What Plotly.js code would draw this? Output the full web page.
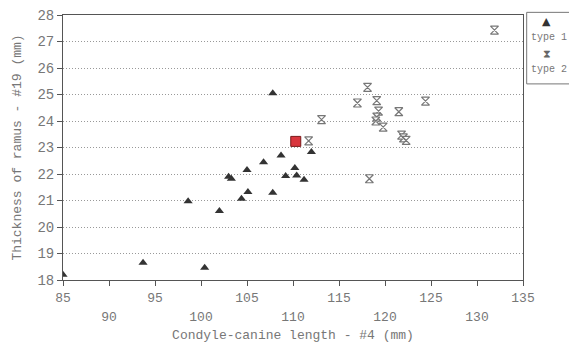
<!DOCTYPE html>
<html>
<head>
<meta charset="utf-8">
<script src="https://cdn.plot.ly/plotly-3.0.1.min.js"></script>
<style>html,body{margin:0;padding:0;background:#fff;}#chart{width:569px;height:343px;}</style>
</head>
<body>
<div id="chart"></div>
<script>
// Type 1 specimens
const type1X = [85.0, 93.7, 100.4, 98.6, 102.0, 103.0, 103.3, 104.4, 105.1, 105.0, 106.8, 107.8, 107.8, 108.7, 109.2, 110.2, 110.4, 111.2, 112.0];
const type1Y = [18.2, 18.65, 18.46, 20.97, 20.6, 21.9, 21.82, 21.07, 21.32, 22.15, 22.44, 21.29, 25.05, 22.7, 21.92, 22.23, 21.94, 21.78, 22.83];
// Type 2 specimens
const type2X = [111.7, 113.1, 117.0, 118.1, 119.1, 119.3, 119.1, 119.0, 119.8, 121.5, 124.4, 121.8, 122.0, 122.3, 131.9, 118.3];
const type2Y = [23.25, 24.05, 24.68, 25.27, 24.77, 24.37, 24.15, 24.0, 23.77, 24.35, 24.75, 23.47, 23.36, 23.27, 27.43, 21.82];
// Highlighted specimen
const markX = [110.3];
const markY = [23.23];
// Axis ticks
const xTickVals = [85, 90, 95, 100, 105, 110, 115, 120, 125, 130, 135];
const xTickUpper = ["85", "", "95", "", "105", "", "115", "", "125", "", "135"];
const xLowerVals = [90, 100, 110, 120, 130];
const xLowerText = ["90", "100", "110", "120", "130"];
const yTickVals = [18, 19, 20, 21, 22, 23, 24, 25, 26, 27, 28];

const font = "Liberation Mono, Courier New, monospace";
const grey = "#777";

const traces = [
  {x: type1X, y: type1Y, mode: "markers", type: "scatter", name: "type 1", showlegend: false,
   xaxis: "x2", yaxis: "y",
   marker: {symbol: "triangle-up", size: 8, color: "#333"}},
  {x: type2X, y: type2Y, mode: "markers", type: "scatter", name: "type 2", showlegend: false,
   marker: {symbol: "hourglass", size: 8, color: "rgba(255,255,255,0.9)", line: {color: "#777", width: 1.2}}},
  {x: markX, y: markY, mode: "markers", type: "scatter", name: "", showlegend: false,
   marker: {symbol: "square", size: 10, color: "#d9363e", line: {color: "#7a1a1a", width: 1}}}
];

const layout = {
  width: 569, height: 343,
  margin: {l: 63, r: 46, t: 15, b: 63},
  paper_bgcolor: "#fff", plot_bgcolor: "#fff",
  font: {family: font, color: grey, size: 12},
  showlegend: false,
  xaxis: {
    range: [85, 135], tickvals: xTickVals, ticktext: xTickUpper,
    ticks: "outside", ticklen: 5, tickcolor: "#555",
    showgrid: false, zeroline: false,
    showline: true, linecolor: "#555", linewidth: 1, mirror: true,
    tickfont: {family: font, size: 13, color: grey},
    title: {text: "Condyle-canine length - #4 (mm)", font: {family: font, size: 13, color: grey}, standoff: 27}
  },
  xaxis2: {
    overlaying: "x", matches: "x", anchor: "y", side: "bottom",
    range: [85, 135], tickvals: xLowerVals, ticktext: xLowerText,
    ticks: "", showgrid: false, zeroline: false, showline: false,
    ticklabelstandoff: 27,
    tickfont: {family: font, size: 13, color: grey}
  },
  yaxis: {
    range: [18, 28], tickvals: yTickVals,
    ticks: "outside", ticklen: 5, tickcolor: "#555",
    showgrid: true, gridcolor: "#999", griddash: "1px,2px", gridwidth: 1,
    zeroline: false,
    showline: true, linecolor: "#555", linewidth: 1, mirror: true,
    tickfont: {family: font, size: 14, color: grey},
    title: {text: "Thickness of ramus - #19 (mm)", font: {family: font, size: 13, color: grey}, standoff: 12}
  },
  shapes: [
    {type: "rect", xref: "paper", yref: "paper", x0: 1.008, x1: 1.3, y0: 0.74, y1: 1.01,
     line: {color: "#777", width: 1}, fillcolor: "rgba(0,0,0,0)"}
  ],
  annotations: [
    {xref: "paper", yref: "paper", x: 1.038, y: 0.975, xanchor: "left", yanchor: "middle", showarrow: false,
     text: "▲", font: {family: "DejaVu Sans", size: 11, color: "#333"}},
    {xref: "paper", yref: "paper", x: 1.012, y: 0.915, xanchor: "left", yanchor: "middle", showarrow: false,
     text: "type 1", font: {family: font, size: 10, color: grey}},
    {xref: "paper", yref: "paper", x: 1.04, y: 0.855, xanchor: "left", yanchor: "middle", showarrow: false,
     text: "⧗", font: {family: "DejaVu Sans", size: 11, color: "#666"}},
    {xref: "paper", yref: "paper", x: 1.012, y: 0.795, xanchor: "left", yanchor: "middle", showarrow: false,
     text: "type 2", font: {family: font, size: 10, color: grey}}
  ]
};

Plotly.newPlot("chart", traces, layout, {displayModeBar: false, staticPlot: true});
</script>
</body>
</html>
